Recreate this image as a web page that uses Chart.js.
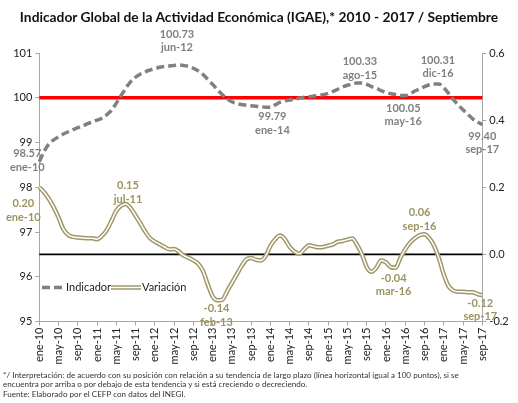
<!DOCTYPE html>
<html lang="es">
<head>
  <meta charset="UTF-8" />
  <title>IGAE 2010 - 2017</title>
  <style>
    body { margin: 0; background: #fff; font-family: Lato, sans-serif; }
    #wrap { position: relative; width: 518px; height: 403px; overflow: hidden; }
    #titulo { position: absolute; top: 8px; left: 0; width: 518px; text-align: center;
              font: bold 13.8px Lato, sans-serif; color: #111; }
    #graf { position: absolute; top: 0; left: 0; }
    #notas { position: absolute; top: 371px; left: 3px; width: 515px;
             font: 8.1px Lato, sans-serif; line-height: 9.4px; color: #333; white-space: nowrap; }
  </style>
</head>
<body>
<div id="wrap">
  <canvas id="graf" width="518" height="372"></canvas>
  <div id="titulo">Indicador Global de la Actividad Económica (IGAE),* 2010 - 2017 / Septiembre</div>
  <div id="notas">
    */ Interpretación: de acuerdo con su posición con relación a su tendencia de largo plazo (línea horizontal igual a 100 puntos), si se<br>
    encuentra por arriba o por debajo de esta tendencia y si está creciendo o decreciendo.<br>
    Fuente: Elaborado por el CEFP con datos del INEGI.
  </div>
</div>

<script src="https://cdn.jsdelivr.net/npm/chart.js"></script>
<script>
// meses ene-10 ... sep-17
const mesesAbrev = ["ene", "feb", "mar", "abr", "may", "jun", "jul", "ago", "sep", "oct", "nov", "dic"];
const anios = ["10", "11", "12", "13", "14", "15", "16", "17"];
const ultimoMes = 9; // septiembre de 2017

const etiquetas = [];
anios.forEach((a, i) => {
  const n = i === anios.length - 1 ? ultimoMes : 12;
  for (let m = 0; m < n; m++) etiquetas.push(mesesAbrev[m] + "-" + a);
});

// Indicador (eje izquierdo)
const indicador = [
  98.57, 98.80, 98.97, 99.06, 99.13, 99.19, 99.24, 99.29, 99.33, 99.37, 99.42, 99.46,
  99.50, 99.54, 99.62, 99.72, 99.88, 100.05, 100.22, 100.36, 100.46, 100.53, 100.58, 100.62,
  100.65, 100.68, 100.70, 100.71, 100.72, 100.73, 100.72, 100.70, 100.66, 100.60, 100.52, 100.41,
  100.30, 100.18, 100.07, 99.98, 99.91, 99.87, 99.85, 99.83, 99.82, 99.81, 99.80, 99.79,
  99.79, 99.84, 99.90, 99.93, 99.95, 99.97, 99.99, 100.01, 100.02, 100.04, 100.05, 100.07,
  100.10, 100.14, 100.19, 100.24, 100.28, 100.31, 100.33, 100.33, 100.30, 100.25, 100.21, 100.16,
  100.12, 100.09, 100.07, 100.05, 100.05, 100.09, 100.15, 100.20, 100.25, 100.29, 100.31, 100.31,
  100.22, 100.10, 99.96, 99.84, 99.73, 99.63, 99.53, 99.46, 99.40
];

// Variación (eje derecho)
const variacion = [
  0.200, 0.185, 0.165, 0.140, 0.110, 0.075, 0.058, 0.052, 0.050, 0.049, 0.048, 0.048,
  0.045, 0.055, 0.072, 0.100, 0.130, 0.145, 0.150, 0.137, 0.115, 0.092, 0.068, 0.048,
  0.038, 0.030, 0.022, 0.015, 0.016, 0.008, -0.004, -0.010, -0.018, -0.028, -0.050, -0.090,
  -0.125, -0.137, -0.135, -0.110, -0.085, -0.060, -0.035, -0.015, -0.011, -0.016, -0.018, -0.005,
  0.025, 0.045, 0.056, 0.045, 0.022, 0.008, 0.002, 0.015, 0.027, 0.024, 0.021, 0.022,
  0.026, 0.030, 0.038, 0.040, 0.044, 0.047, 0.028, 0.000, -0.038, -0.052, -0.040, -0.018,
  -0.024, -0.038, -0.040, -0.010, 0.015, 0.035, 0.048, 0.057, 0.060, 0.048, 0.025, -0.012,
  -0.060, -0.095, -0.108, -0.111, -0.111, -0.113, -0.113, -0.118, -0.122
];

const lineaTendencia = 100;
const lineaCero = 0;

// puntos con etiqueta
const marcasIndicador = [0, 29, 48, 67, 76, 83, 92];
const marcasVariacion = [0, 18, 37, 74, 80, 92];

// desplazamientos de las etiquetas [dx, dy valor, dy fecha]
const despInd = { 0: [-12, -8, 6], 29: [-2, -31, -18], 48: [2, 9, 23], 67: [-2, -22, -8],
                  76: [-2, 13, 26], 83: [-1, -23, -10], 92: [0, 12, 25] };
const despVar = { 0: [-16, 16, 30], 18: [2, -19, -5], 37: [-1, 8, 22], 74: [-2, 11, 24],
                  80: [-5, -22, -8], 92: [-2, 8, 21] };

const GRIS = "#808080";
const OLIVA = "#a0976a";
const OLIVA_TXT = "#9c9360";

const etiquetasPlugin = {
  id: "etiquetas",
  afterDatasetsDraw(chart) {
    const ctx = chart.ctx;
    const x = chart.scales.x, yL = chart.scales.y, yR = chart.scales.y1;
    ctx.save();
    ctx.font = "bold 11px Lato, sans-serif";
    ctx.textAlign = "center";
    ctx.textBaseline = "middle";
    ctx.fillStyle = GRIS;
    marcasIndicador.forEach(i => {
      const px = x.getPixelForValue(i), py = yL.getPixelForValue(indicador[i]);
      const d = despInd[i];
      ctx.fillText(indicador[i].toFixed(2), px + d[0], py + d[1]);
      ctx.fillText(etiquetas[i], px + d[0], py + d[2]);
    });
    ctx.fillStyle = OLIVA_TXT;
    marcasVariacion.forEach(i => {
      const px = x.getPixelForValue(i), py = yR.getPixelForValue(variacion[i]);
      const d = despVar[i];
      ctx.fillText(variacion[i].toFixed(2), px + d[0], py + d[1]);
      ctx.fillText(etiquetas[i], px + d[0], py + d[2]);
    });

    // leyenda
    const ly = 287.5;
    ctx.font = "11px Lato, sans-serif";
    ctx.textAlign = "left";
    ctx.lineCap = "butt";
    ctx.strokeStyle = GRIS;
    ctx.lineWidth = 3.5;
    ctx.setLineDash([8, 4]);
    ctx.beginPath(); ctx.moveTo(42, ly); ctx.lineTo(64, ly); ctx.stroke();
    ctx.setLineDash([]);
    ctx.fillStyle = "#222";
    ctx.fillText("Indicador", 66, ly);
    ctx.strokeStyle = OLIVA; ctx.lineWidth = 4.5;
    ctx.beginPath(); ctx.moveTo(111, ly); ctx.lineTo(141, ly); ctx.stroke();
    ctx.strokeStyle = "#fff"; ctx.lineWidth = 1.5;
    ctx.beginPath(); ctx.moveTo(111, ly); ctx.lineTo(141, ly); ctx.stroke();
    ctx.fillText("Variación", 142, ly);
    ctx.restore();
  }
};

const ctx = document.getElementById("graf").getContext("2d");
new Chart(ctx, {
  type: "line",
  data: {
    labels: etiquetas,
    datasets: [
      { label: "Tendencia", data: etiquetas.map(() => lineaTendencia), yAxisID: "y",
        borderColor: "#ff0000", borderWidth: 3.5, pointRadius: 0, order: 10 },
      { label: "Cero", data: etiquetas.map(() => lineaCero), yAxisID: "y1",
        borderColor: "#000", borderWidth: 1.8, pointRadius: 0, order: 9 },
      { label: "Indicador", data: indicador, yAxisID: "y",
        borderColor: GRIS, borderWidth: 3.5, borderDash: [8, 4], pointRadius: 0,
        cubicInterpolationMode: "monotone", order: 2 },
      { label: "Variación", data: variacion, yAxisID: "y1",
        borderColor: OLIVA, borderWidth: 4.5, pointRadius: 0,
        cubicInterpolationMode: "monotone", order: 4 },
      { label: "Variación interior", data: variacion, yAxisID: "y1",
        borderColor: "#fff", borderWidth: 1.5, pointRadius: 0,
        cubicInterpolationMode: "monotone", order: 3 }
    ]
  },
  options: {
    responsive: false,
    animation: false,
    layout: { padding: { top: 53, left: 0, right: 0, bottom: 0 } },
    plugins: { legend: { display: false }, tooltip: { enabled: false }, title: { display: false } },
    scales: {
      x: {
        offset: false,
        border: { color: "#a6a6a6", width: 1 },
        grid: {
          drawOnChartArea: false, tickLength: 4,
          color: c => (c.index % 4 === 0 ? "#a6a6a6" : "rgba(0,0,0,0)")
        },
        ticks: {
          autoSkip: false, minRotation: 90, maxRotation: 90, padding: 2,
          color: "#222", font: { family: "Lato", size: 11 },
          callback: (v, i) => (i % 4 === 0 ? etiquetas[i] : "")
        },
        afterFit: s => { s.height = 50.5; }
      },
      y: {
        position: "left", min: 95, max: 101,
        border: { color: "#a6a6a6" },
        grid: { drawOnChartArea: false, tickLength: 4, color: "#a6a6a6" },
        ticks: { stepSize: 1, padding: 3, color: "#222", font: { family: "Lato", size: 11 } },
        afterFit: s => { s.width = 39.3; }
      },
      y1: {
        position: "right", min: -0.2, max: 0.6,
        border: { color: "#a6a6a6" },
        grid: { drawOnChartArea: false, tickLength: 4, color: "#a6a6a6" },
        ticks: { stepSize: 0.2, padding: 3, color: "#222", font: { family: "Lato", size: 11 },
                 callback: v => Number(v).toFixed(1) },
        afterFit: s => { s.width = 35.7; }
      }
    }
  },
  plugins: [etiquetasPlugin]
});
</script>
</body>
</html>
